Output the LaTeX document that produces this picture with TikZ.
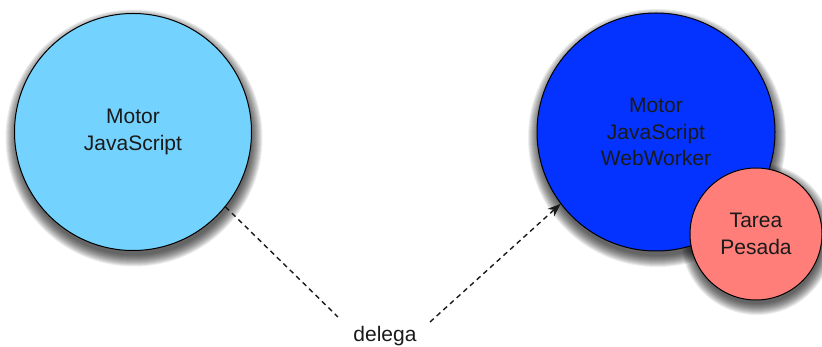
\documentclass[tikz,border=0pt]{standalone}
\usepackage{fontspec}
\setmainfont{Liberation Sans}
\usetikzlibrary{arrows.meta}

\definecolor{enginefill}{HTML}{74D3FE}
\definecolor{workerfill}{HTML}{0433FF}
\definecolor{taskfill}{HTML}{FF7E79}
\definecolor{inkgray}{HTML}{1A1A1A}

% soft shadow under a circle: centre x, centre y, radius
\newcommand\softshadow[3]{%
  \foreach \k in {1,...,12}{%
    \fill[black,opacity=0.075] (#1+1,#2+6) circle[radius=#3+11-\k];
  }%
}

\tikzset{
  bubble/.style={circle, draw=black, line width=1pt, inner sep=0pt,
    align=center, text=inkgray, font=\fontsize{21}{26.5}\selectfont},
  flow/.style={draw=inkgray, line width=1.4pt, dash pattern=on 5pt off 4pt},
  flowtip/.style={-{Stealth[length=13pt,width=10pt]}},
  edgelabel/.style={text=inkgray, font=\fontsize{21}{26}\selectfont, inner sep=0pt}
}

\begin{document}
\begin{tikzpicture}[x=1pt,y=-1pt]
  \useasboundingbox (0,0) rectangle (822,347);

  % shadows
  \softshadow{133}{132}{118.5}
  \softshadow{656}{132}{119}
  \softshadow{756}{233}{66}

  % engines
  \node[bubble, fill=enginefill, minimum size=237pt] (main) at (133,132)
    {Motor\\JavaScript};
  \node[bubble, fill=workerfill, minimum size=238pt] (worker) at (656,132)
    {Motor\\JavaScript\\WebWorker};
  \node[bubble, fill=taskfill, minimum size=132pt] (task) at (756,234)
    {Tarea\\Pesada};

  % delegation connector
  \node[edgelabel] (delega) at (385,336) {delega};
  \coordinate (dA) at (338,317);
  \coordinate (dB) at (430,322);
  \draw[flow] (main.-39) -- (dA);
  \draw[flow, flowtip] (dB) -- (worker.217);
\end{tikzpicture}
\end{document}
